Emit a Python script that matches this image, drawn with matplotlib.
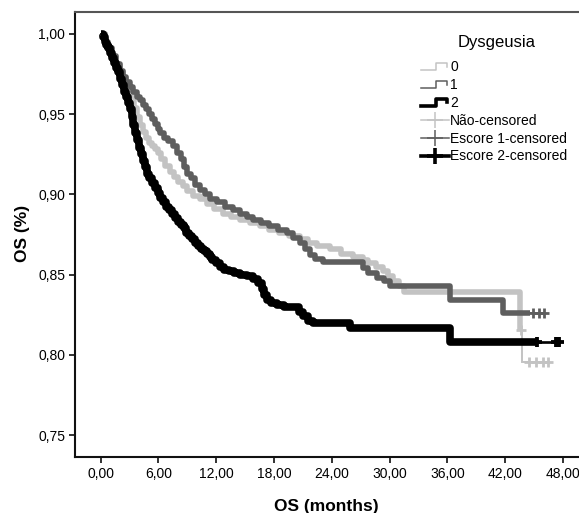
import matplotlib
matplotlib.use("Agg")
import matplotlib.pyplot as plt
import numpy as np
from matplotlib.legend_handler import HandlerBase
from matplotlib.lines import Line2D
from matplotlib.ticker import FuncFormatter


plt.rcParams["font.family"] = ["Liberation Sans", "DejaVu Sans"]

# Kaplan-Meier steps (month, survival after the step)
g0_times = [0.0, 0.4, 0.8, 1.2, 1.6, 2.0, 2.3, 2.6, 2.9, 3.2, 3.5, 3.8, 4.1, 4.4,
            4.7, 5.0, 5.3, 5.6, 5.9, 6.3, 6.7, 7.2, 7.6, 8.0, 8.5, 9.0, 9.6,
            10.3, 11.0, 11.8, 12.7, 13.5, 14.5, 15.5, 16.5, 17.5, 18.5, 19.6,
            20.7, 21.5, 22.5, 23.8, 25.0, 26.2, 27.2, 27.8, 28.6, 29.3, 29.8,
            30.4, 31.0, 31.5, 43.5, 43.8, 46.4]
g0_surv = [1.000, 0.995, 0.991, 0.986, 0.981, 0.977, 0.973, 0.969, 0.965, 0.960,
           0.954, 0.948, 0.943, 0.939, 0.935, 0.932, 0.930, 0.928, 0.926, 0.922,
           0.918, 0.914, 0.911, 0.908, 0.905, 0.902, 0.899, 0.897, 0.894, 0.891,
           0.888, 0.886, 0.884, 0.882, 0.880, 0.878, 0.876, 0.874, 0.872, 0.870,
           0.868, 0.866, 0.863, 0.861, 0.859, 0.857, 0.855, 0.852, 0.849, 0.846,
           0.843, 0.839, 0.8155, 0.7955, 0.7955]

g1_times = [0.0, 0.4, 0.8, 1.2, 1.6, 2.0, 2.3, 2.6, 3.0, 3.4, 3.8, 4.1, 4.4, 4.7,
            5.0, 5.3, 5.6, 5.9, 6.2, 6.6, 7.0, 7.5, 7.9, 8.3, 8.7, 9.0, 9.4,
            9.8, 10.3, 10.8, 11.4, 12.1, 12.9, 13.7, 14.5, 15.2, 15.8, 16.6,
            17.5, 18.4, 19.3, 20.0, 20.7, 21.2, 21.7, 22.3, 23.1, 27.2, 27.8,
            28.7, 29.4, 30.0, 36.3, 41.8, 46.1]
g1_surv = [1.000, 0.995, 0.991, 0.986, 0.981, 0.977, 0.973, 0.970, 0.967, 0.964,
           0.961, 0.959, 0.956, 0.953, 0.950, 0.947, 0.944, 0.941, 0.938, 0.935,
           0.933, 0.930, 0.926, 0.922, 0.917, 0.913, 0.910, 0.906, 0.903, 0.900,
           0.897, 0.895, 0.892, 0.890, 0.888, 0.886, 0.884, 0.882, 0.880, 0.878,
           0.876, 0.873, 0.870, 0.866, 0.862, 0.860, 0.858, 0.854, 0.851, 0.848,
           0.846, 0.843, 0.834, 0.826, 0.826]

g2_times = [0.0, 0.2, 0.4, 0.6, 0.8, 1.0, 1.2, 1.4, 1.6, 1.8, 2.0, 2.2, 2.4, 2.6,
            2.8, 3.0, 3.2, 3.4, 3.6, 3.8, 4.0, 4.2, 4.4, 4.6, 4.8, 5.0, 5.3,
            5.6, 5.9, 6.2, 6.5, 6.8, 7.1, 7.4, 7.7, 8.0, 8.3, 8.6, 8.9, 9.2,
            9.5, 9.8, 10.1, 10.4, 10.7, 11.0, 11.3, 11.6, 12.0, 12.4, 12.8,
            13.3, 13.8, 14.5, 15.2, 15.8, 16.3, 16.7, 17.0, 17.3, 17.7, 18.3,
            19.0, 20.6, 21.0, 21.5, 22.0, 25.9, 36.3, 47.6]
g2_surv = [1.000, 0.998, 0.995, 0.993, 0.991, 0.988, 0.985, 0.982, 0.979, 0.976,
           0.972, 0.968, 0.964, 0.961, 0.957, 0.953, 0.948, 0.943, 0.938, 0.934,
           0.929, 0.925, 0.921, 0.917, 0.913, 0.910, 0.907, 0.904, 0.901, 0.898,
           0.895, 0.892, 0.890, 0.888, 0.885, 0.883, 0.881, 0.879, 0.876, 0.874,
           0.872, 0.870, 0.868, 0.866, 0.865, 0.863, 0.861, 0.859, 0.857, 0.855,
           0.853, 0.852, 0.851, 0.850, 0.849, 0.847, 0.845, 0.841, 0.837, 0.834,
           0.832, 0.831, 0.830, 0.827, 0.824, 0.821, 0.820, 0.817, 0.808, 0.808]

# censored cases in the sparse tails (the rest are packed into the thick line)
g0_censor = [43.6, 44.5, 45.2, 45.9, 46.4]
g1_censor = [44.9, 45.5, 46.0]
g2_censor = [45.3, 47.3, 47.6]

# month up to which censor ticks are packed densely along each curve
g0_dense_end = 43.5
g1_dense_end = 44.6
g2_dense_end = 45.3

x_ticks = [0, 6, 12, 18, 24, 30, 36, 42, 48]
y_ticks = [0.75, 0.80, 0.85, 0.90, 0.95, 1.00]

colors = ["#c3c3c3", "#5e5e5e", "#000000"]
widths = [4.0, 4.0, 5.5]
legend_widths = [1.1, 1.1, 2.6]
legend_labels = ["0", "1", "2", "Não-censored", "Escore 1-censored", "Escore 2-censored"]


def _step_value(times, surv, t):
    idx = np.searchsorted(np.asarray(times), t, side="right") - 1
    return np.asarray(surv)[max(idx, 0)]


def _draw_group(ax, times, surv, censor, dense_end, color, width):
    times = np.asarray(times, dtype=float)
    surv = np.asarray(surv, dtype=float)
    ax.step(times, surv, where="post", color=color, linewidth=width * 0.35,
            solid_joinstyle="miter", zorder=3)
    mask = times <= dense_end
    t_dense = np.append(times[mask], dense_end)
    s_dense = np.append(surv[mask], _step_value(times, surv, dense_end))
    ax.step(t_dense, s_dense, where="post", color=color, linewidth=width,
            solid_capstyle="butt", zorder=3)
    cy = [_step_value(times, surv, t) for t in censor]
    ax.plot(censor, cy, linestyle="none", marker="+", markersize=7,
            markeredgewidth=width * 0.5, color=color, zorder=4)


class StepHandle(HandlerBase):
    def create_artists(self, legend, orig_handle, xdescent, ydescent,
                       width, height, fontsize, trans):
        x0 = -xdescent
        y0 = -ydescent
        xs = [x0, x0 + width * 0.55, x0 + width * 0.55, x0 + width * 0.92, x0 + width * 0.92]
        ys = [y0 + height * 0.1, y0 + height * 0.1, y0 + height * 0.8, y0 + height * 0.8, y0 + height * 0.45]
        line = Line2D(xs, ys, color=orig_handle.get_color(),
                      linewidth=orig_handle.get_linewidth(), transform=trans)
        return [line]


def main() -> None:
    fig = plt.figure(figsize=(5.79, 5.13), dpi=100)
    ax = fig.add_axes([75 / 579, 56 / 513, 504 / 579, 445 / 513])

    groups = [
        (g0_times, g0_surv, g0_censor, g0_dense_end),
        (g1_times, g1_surv, g1_censor, g1_dense_end),
        (g2_times, g2_surv, g2_censor, g2_dense_end),
    ]
    for (times, surv, censor, dense_end), color, width in zip(groups, colors, widths):
        _draw_group(ax, times, surv, censor, dense_end, color, width)

    ax.set_xlim(-2.67, 49.67)
    ax.set_ylim(0.7363, 1.0137)
    ax.set_xticks(x_ticks)
    ax.set_yticks(y_ticks)
    ax.xaxis.set_major_formatter(FuncFormatter(lambda v, _: f"{v:.2f}".replace(".", ",")))
    ax.yaxis.set_major_formatter(FuncFormatter(lambda v, _: f"{v:.2f}".replace(".", ",")))
    ax.tick_params(axis="both", direction="out", length=4.5, width=1.3, labelsize=10,
                   color="#222222", pad=2.5)

    for side in ("left", "bottom"):
        ax.spines[side].set_linewidth(1.5)
        ax.spines[side].set_color("#111111")
    ax.spines["top"].set_linewidth(1.5)
    ax.spines["top"].set_color("#555555")
    ax.spines["right"].set_visible(False)

    fig.text(23 / 579, 1 - 233 / 513, "OS (%)", rotation=90, ha="center", va="center",
             fontsize=12.5, fontweight="bold")
    fig.text(326 / 579, 1 - 507 / 513, "OS (months)", ha="center", va="center",
             fontsize=12.5, fontweight="bold")

    step_handles = [Line2D([], [], color=c, linewidth=w) for c, w in zip(colors, legend_widths)]
    censor_handles = [
        Line2D([], [], color=c, linewidth=w, marker="+", markersize=12,
               markeredgewidth=w)
        for c, w in zip(colors, legend_widths)
    ]
    handler_map = {h: StepHandle() for h in step_handles}
    fig.legend(step_handles + censor_handles, legend_labels,
               loc="upper left", bbox_to_anchor=(421 / 579, 1 - 60 / 513),
               frameon=False, fontsize=10, handlelength=2.0,
               handletextpad=0.1, labelspacing=0.28, borderpad=0, borderaxespad=0,
               handler_map=handler_map)
    fig.text(497 / 579, 1 - 42 / 513, "Dysgeusia", ha="center", va="center", fontsize=12)

    fig.savefig("out.png", dpi=100)
    plt.close(fig)


if __name__ == "__main__":
    main()
